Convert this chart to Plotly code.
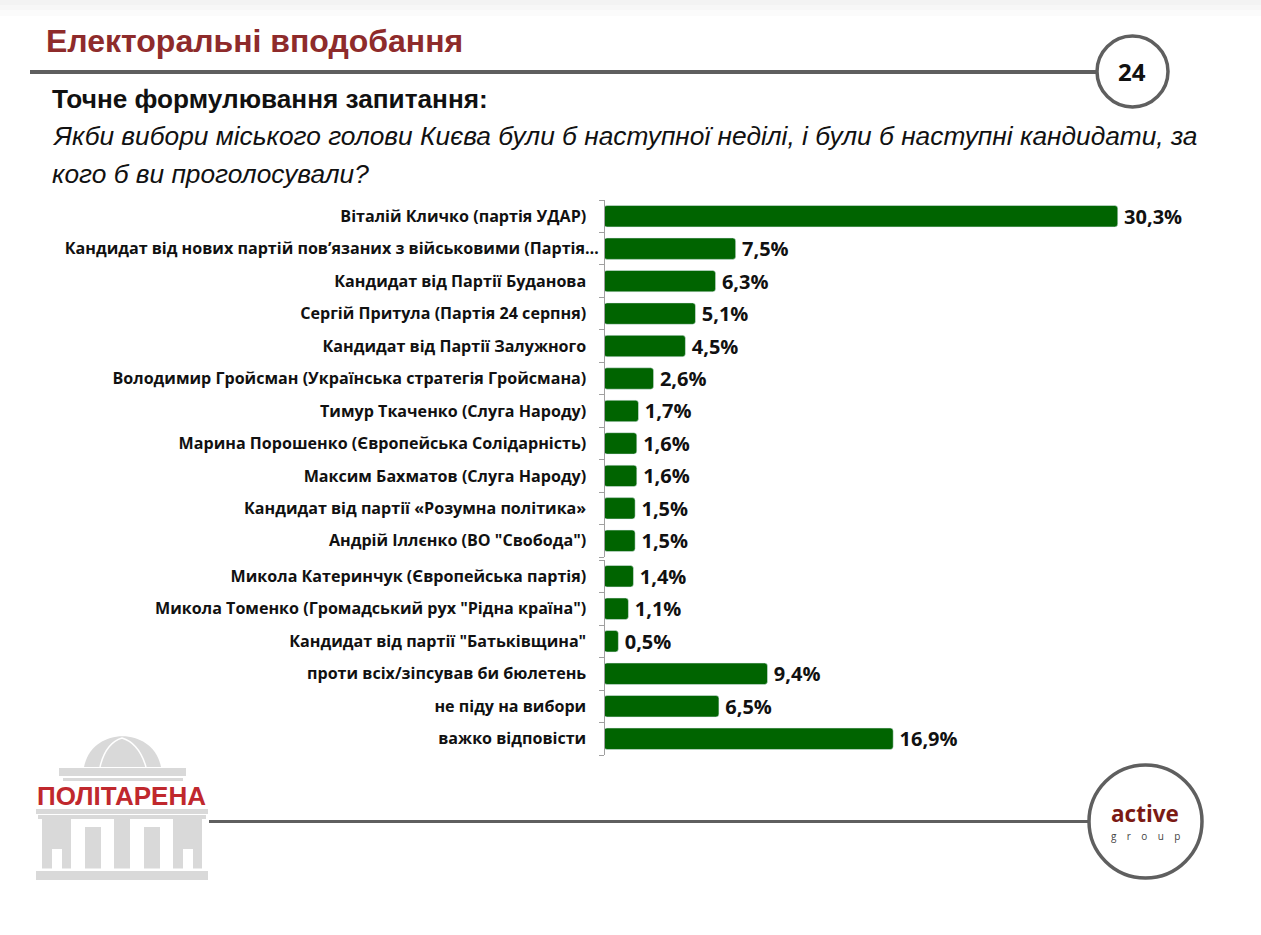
import plotly.graph_objects as go

upper_labels = ["Віталій Кличко (партія УДАР)",
    "Кандидат від нових партій пов’язаних з військовими (Партія…",
    "Кандидат від Партії Буданова", "Сергій Притула (Партія 24 серпня)",
    "Кандидат від Партії Залужного", "Володимир Гройсман (Українська стратегія Гройсмана)",
    "Тимур Ткаченко (Слуга Народу)", "Марина Порошенко (Європейська Солідарність)",
    "Максим Бахматов (Слуга Народу)", "Кандидат від партії «Розумна політика»",
    "Андрій Іллєнко (ВО \"Свобода\")"]
upper_values = [30.3, 7.5, 6.3, 5.1, 4.5, 2.6, 1.7, 1.6, 1.6, 1.5, 1.5]
lower_labels = ["Микола Катеринчук (Європейська партія)",
    "Микола Томенко (Громадський рух \"Рідна країна\")",
    "Кандидат від партії \"Батьківщина\"", "проти всіх/зіпсував би бюлетень",
    "не піду на вибори", "важко відповісти"]
lower_values = [1.4, 1.1, 0.5, 9.4, 6.5, 16.9]

W, H = 1261, 935
GREEN = "#006400"
FONT = "Open Sans"
STUB = 0.358  # every bar in the reference starts a little left of its zero
def px(x): return x / W
def py(y): return 1 - y / H

def pad(label):
    # the truncated label runs closer to the axis than the others
    return label if label.endswith("…") else label + "\u00a0" * 3

def bars(labels, values, xa, ya):
    return go.Bar(y=labels, x=[v + STUB for v in values], base=-STUB, orientation="h",
                  marker=dict(color=GREEN, cornerradius=3),
                  width=0.66, text=["\u2009" + f"{v:.1f}%".replace(".", ",") for v in values],
                  textposition="outside", cliponaxis=False, constraintext="none",
                  textfont=dict(family=FONT, size=20, color="#111111", weight=700),
                  xaxis=xa, yaxis=ya, showlegend=False)

fig = go.Figure([bars(upper_labels, upper_values, "x", "y"),
                 bars(lower_labels, lower_values, "x2", "y2")])

def yax(labels, top, bottom):
    return dict(domain=[py(bottom), py(top)], autorange="reversed", anchor="free", position=px(604),
                tickson="boundaries", ticks="outside", ticklen=5, tickcolor="#a0a0a0",
                showline=True, linecolor="#a0a0a0", linewidth=1, showgrid=False, ticklabelstandoff=2,
                tickmode="array", tickvals=labels, ticktext=[pad(l) for l in labels],
                tickfont=dict(family=FONT, size=16.1, color="#111111", weight=700))

xcommon = dict(range=[-STUB, 38.31], visible=False, domain=[px(604), px(1252)])
fig.update_layout(
    width=W, height=H, autosize=False, margin=dict(l=0, r=0, t=0, b=0),
    paper_bgcolor="white", plot_bgcolor="rgba(0,0,0,0)", bargap=0.3,
    xaxis=dict(xcommon, anchor="y"), xaxis2=dict(xcommon, anchor="y2"),
    yaxis=yax(upper_labels, 200, 557), yaxis2=yax(lower_labels, 560, 755),
)

def text(x, y, s, size, color="#111111", bold=False, italic=False, family="Liberation Sans", anchor="left"):
    fig.add_annotation(xref="paper", yref="paper", x=px(x), y=py(y), text=s, showarrow=False,
        xanchor=anchor, yanchor="middle", align=anchor,
        font=dict(family=family, size=size, color=color, weight=700 if bold else 400,
                  style="italic" if italic else "normal"))

def rect(x0, y0, x1, y1, color):
    fig.add_shape(type="rect", xref="paper", yref="paper", x0=px(x0), x1=px(x1), y0=py(y0), y1=py(y1),
                  fillcolor=color, line_width=0, layer="below")

def circle(x0, y0, x1, y1, color="#5f5f5f", width=3.5, fill="white"):
    fig.add_shape(type="circle", xref="paper", yref="paper", x0=px(x0), x1=px(x1), y0=py(y0), y1=py(y1),
                  fillcolor=fill, line=dict(color=color, width=width), layer="below")

def path(points, fill, line=None):
    d = " ".join(points)
    fig.add_shape(type="path", xref="paper", yref="paper", path=d, layer="below",
                  fillcolor=fill, line=dict(color=line or "rgba(0,0,0,0)", width=1.5 if line else 0))

def P(x, y): return f"{px(x)} {py(y)}"

# top fade
rect(0, 0, W, 5, "#f3f3f3")
rect(0, 5, W, 10, "#f7f7f7")
rect(0, 10, W, 16, "#fbfbfb")
# rules
rect(30, 70, 1098, 74, "#5f5f5f")
rect(209, 820, 1090, 823, "#5f5f5f")
circle(1097, 36, 1168, 107)
circle(1089, 765, 1202, 878)

text(44, 41, "Електоральні вподобання", 32, color="#8e2b2b", bold=True)
text(50, 99, "Точне формулювання запитання:", 26.2, bold=True)
text(50, 136, "Якби вибори міського голови Києва були б наступної неділі, і були б наступні кандидати, за", 26.3, italic=True)
text(50, 174, "кого б ви проголосували?", 26.3, italic=True)
text(1132, 71, "24", 24, bold=True, family=FONT, anchor="center")
text(1145, 813.5, "active", 22.5, color="#7b1a14", bold=True, family=FONT, anchor="center")
text(1145, 835.5, "g\u00a0\u00a0\u00a0\u00a0r\u00a0\u00a0\u00a0\u00a0o\u00a0\u00a0\u00a0\u00a0u\u00a0\u00a0\u00a0\u00a0p", 10, color="#444444", family=FONT, anchor="center")

# logo building
G = "#d9d9d9"
path([f"M {P(84, 767)}", f"C {P(92, 726)} {P(153, 726)} {P(161, 767)}", "Z"], G)
path([f"M {P(100, 767)}", f"C {P(104, 750)} {P(112, 741)} {P(122, 738)}",
      f"C {P(132, 741)} {P(141, 750)} {P(146, 767)}"], "rgba(0,0,0,0)", "white")
rect(59, 768, 186, 776, G)
rect(63, 778, 183, 781, G)
rect(36, 809, 208, 814, G)
rect(38, 815, 206, 819, G)
for a, b, t in [(42, 71, 816), (85, 101, 827), (114, 130, 816), (144, 160, 827), (173, 202, 816)]:
    rect(a, t, b, 868.5, G)
rect(36, 871, 208, 880, G)
rect(52, 849, 62, 869, "white")
rect(183, 849, 193, 869, "white")
text(121, 796, "ПОЛІТАРЕНА", 26, color="#c0282d", bold=True, anchor="center")

fig.write_html("out.html", config={"displayModeBar": False},
               post_script="document.body.style.margin='0';document.documentElement.style.overflow='hidden';")
